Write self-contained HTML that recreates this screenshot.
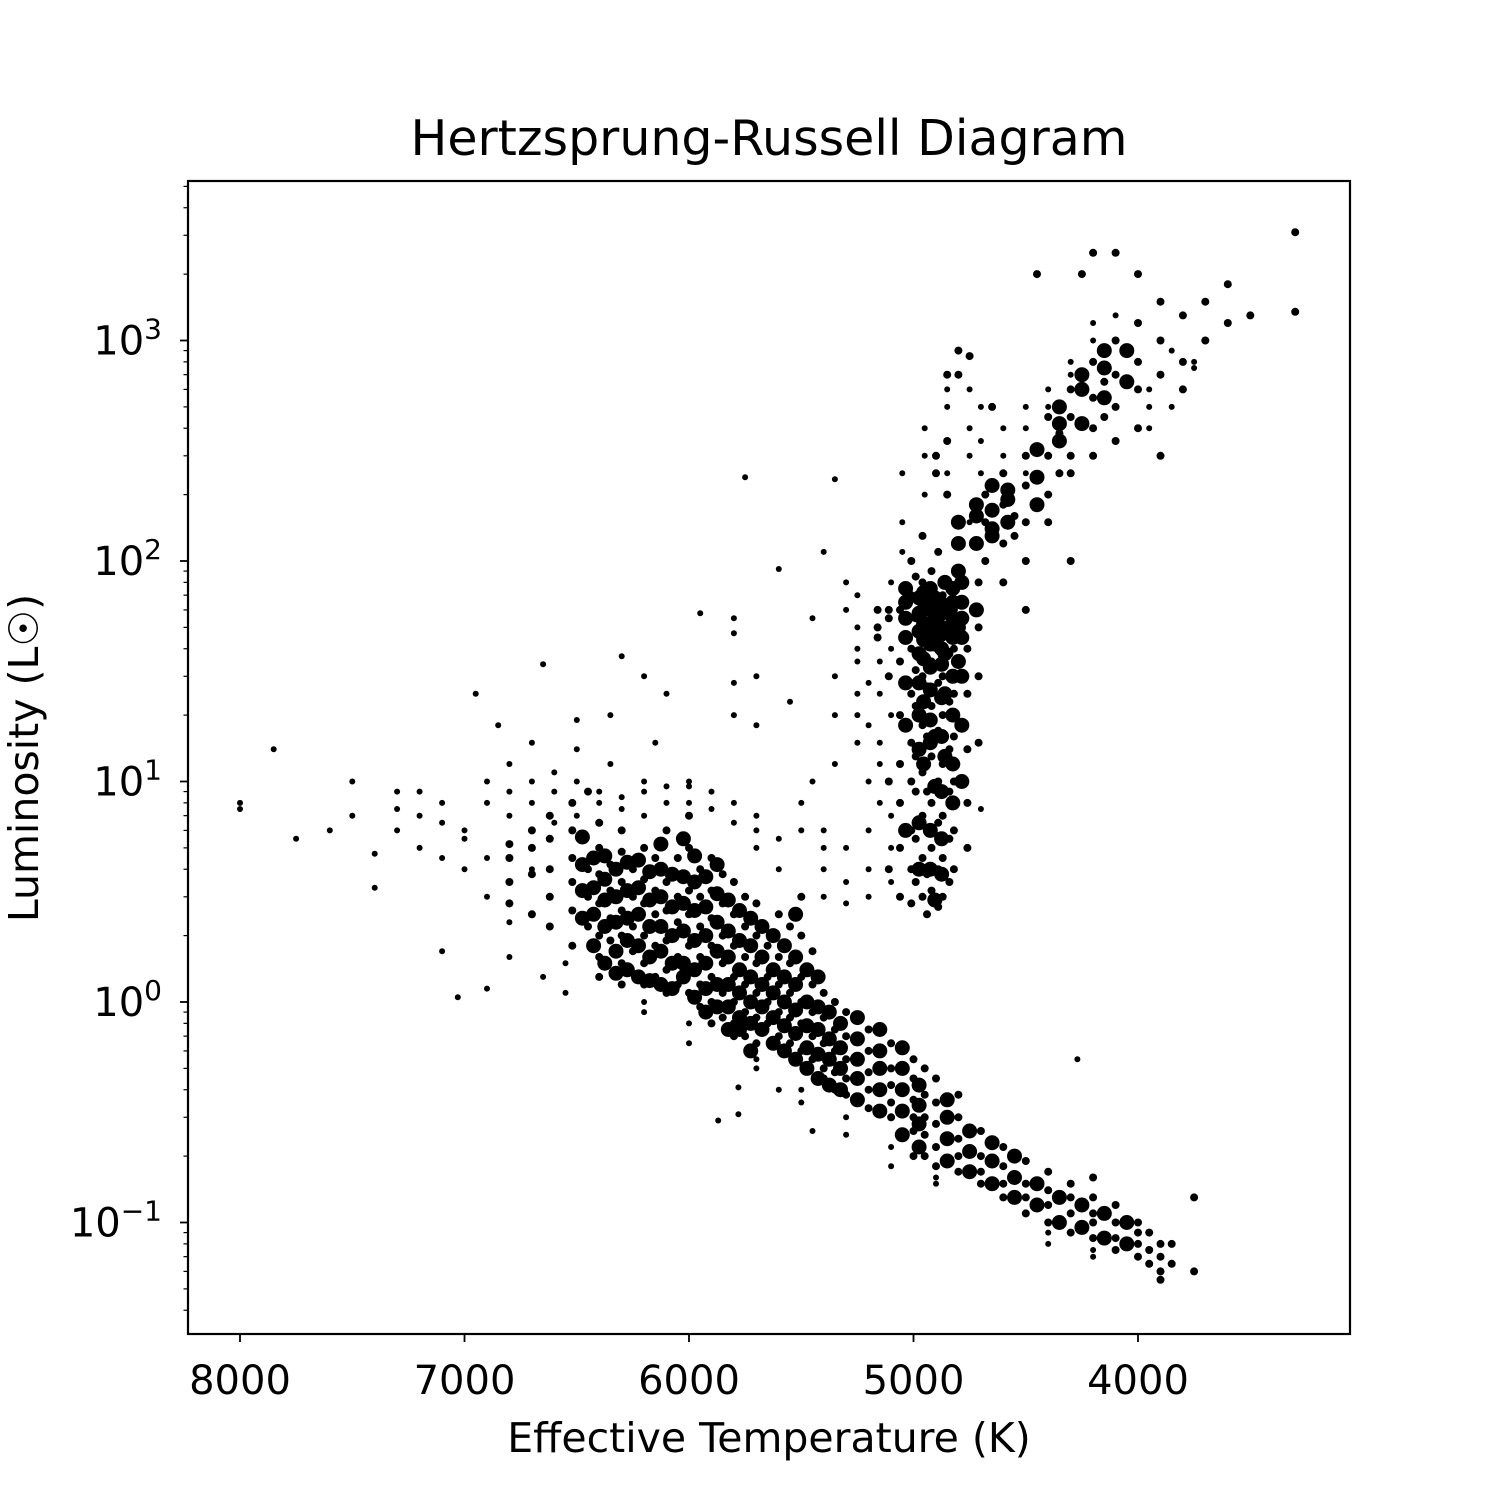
<!DOCTYPE html>
<html><head><meta charset="utf-8"><style>
html,body{margin:0;padding:0;background:#fff}
svg text{font-family:"DejaVu Sans","Liberation Sans",sans-serif;fill:#000}
</style></head><body>
<svg id="chart" width="1500" height="1500" viewBox="0 0 1500 1500" xmlns="http://www.w3.org/2000/svg">
<rect width="1500" height="1500" fill="#fff"/>
<text x="769" y="155" font-size="49" text-anchor="middle">Hertzsprung-Russell Diagram</text>
<text x="769" y="1452" font-size="41" text-anchor="middle">Effective Temperature (K)</text>
<text transform="translate(38,758) rotate(-90)" font-size="41" text-anchor="middle">Luminosity (L☉)</text>
<g id="axes"></g>
<g id="points"></g>
<rect x="188" y="181" width="1162" height="1153" fill="none" stroke="#000" stroke-width="2.2"/>
</svg>
<script>
const xTicks = [8000, 7000, 6000, 5000, 4000];
const yTickExps = [-1, 0, 1, 2, 3];
const mainSeq = [
[6800,[4.5,3.5,5.2,2.8]],[6700,[3.8,5,2.5,6]],[6620,[4,3,2.2,5.5,7]],[6520,[3.5,2.6,4.5,1.8,6,8]],
[6450,[3,2.2,4,9]],[6400,[3.8,2.8,2,1.6,5,6.5,1.3]],[6350,[3.2,2.4,4.2,1.9]],[6300,[3.5,2.6,2,1.5,4.8,1.2,6]],
[6250,[3,2.2,4,1.7]],[6200,[2.8,2,1.5,3.6,1.2,5]],[6150,[2.5,1.8,3.2,1.3,4.5]],[6100,[2.6,1.9,1.4,3.5,1.1,6]],
[6050,[2.3,1.6,3,1.2,4.5]],[6000,[2.5,1.8,1.4,3.2,1.1,5,7]],[5950,[2.2,1.6,1.2,3,4,0.95]],
[5900,[2.4,1.8,1.3,3.2,1,4.5,0.8]],[5850,[2,1.5,1.1,2.8,3.8,0.85]],[5800,[1.8,1.3,1,2.5,3.5,0.8,0.7]],
[5750,[1.6,1.2,0.9,2.2,3,0.7]],[5700,[1.5,1.1,0.85,2,2.8,0.65]],[5650,[1.3,1,0.8,1.8]],
[5600,[1.2,0.9,0.7,1.6,2.5]],[5550,[1.1,0.85,0.65,1.5,2.2]],[5500,[1,0.8,0.6,1.3,2,3]],
[5450,[0.9,0.7,0.55,1.2,1.7]],[5400,[0.85,0.65,0.5,1.1,0.45]],[5350,[0.75,0.6,0.48,1,0.4]],
[5300,[0.7,0.55,0.45,0.9,0.38]],[5200,[0.6,0.48,0.4,0.75,0.33]],[5100,[0.5,0.42,0.35,0.65,0.3]],
[5000,[0.45,0.36,0.3,0.55,0.26,0.2]],[4950,[0.38,0.3,0.25,0.5,0.2]],[4900,[0.35,0.28,0.22,0.45,0.18]],
[4800,[0.3,0.24,0.2,0.38,0.17]],[4700,[0.26,0.2,0.17,0.15]],[4600,[0.22,0.18,0.15,0.13]],
[4500,[0.19,0.15,0.13,0.11]],[4400,[0.17,0.14,0.12,0.1]],[4300,[0.15,0.13,0.11,0.09]],
[4200,[0.13,0.11,0.1,0.085,0.16]],[4100,[0.12,0.1,0.085,0.075]],[4000,[0.1,0.09,0.08,0.07]],
[3950,[0.09,0.075,0.065]],[3900,[0.08,0.07,0.06,0.055]],[3850,[0.08,0.065]],[3750,[0.13,0.06]]
];
const denseCores = [
[6475,[2.4,3.2,4.2,5.6]],[6425,[2.5,3.3,4.5,1.8]],[6375,[2.2,2.9,3.6,4.6,1.5]],[6325,[2.3,3,4,1.7,1.35]],
[6275,[1.9,2.4,3.2,4.3,1.4]],[6225,[1.8,2.5,3.3,4.4,1.3]],[6175,[1.6,2.2,2.9,3.9,1.25]],
[6125,[1.7,2.2,3,4,1.2,5.2]],[6075,[1.5,2,2.7,3.8,1.15]],[6025,[1.5,2.1,2.8,3.7,1.3,5.5]],
[5975,[1.4,1.9,2.6,3.5,1.05,4.6]],[5925,[1.15,1.5,2,2.7,3.7,0.9]],[5875,[1.2,1.7,2.3,3.1,0.95,4.2]],
[5825,[0.95,1.2,1.6,2.1,2.9,0.75]],[5775,[0.85,1.1,1.4,1.9,2.6,0.75]],[5725,[0.8,1,1.3,1.8,2.4,0.6]],
[5675,[0.75,0.95,1.2,1.6,2.2]],[5625,[0.65,0.85,1.1,1.4,2]],[5575,[0.6,0.78,1,1.3,1.8]],
[5525,[0.55,0.72,0.92,1.2,1.6,2.5]],[5475,[0.5,0.62,0.78,1,1.4]],[5425,[0.45,0.58,0.75,0.95,1.3]],
[5375,[0.42,0.55,0.68,0.9]],[5325,[0.4,0.5,0.62,0.8]],[5250,[0.36,0.45,0.55,0.68,0.85]],
[5150,[0.32,0.4,0.5,0.6,0.75]],[5050,[0.25,0.32,0.4,0.5,0.62]],[4975,[0.22,0.28,0.34,0.42]],
[4850,[0.19,0.24,0.3,0.36]],[4750,[0.17,0.21,0.26]],[4650,[0.15,0.19,0.23]],[4550,[0.13,0.16,0.2]],
[4450,[0.12,0.15]],[4350,[0.1,0.13]],[4250,[0.095,0.12]],[4150,[0.085,0.11]],[4050,[0.08,0.1]],
[4975,[14,20,28,38,48,58,68,4,6.5]],[4925,[15,19,26,33,42,50,62,75,4,6]],[4875,[16,24,34,40,50,58,64,3.8,5.5,9]],
[4825,[20,30,45,55,65,75,8,12]],[4785,[30,45,55,65,80,18,10]],[5035,[45,55,65,75,18,28,6]],
[4905,[42,48,56,68,9.5,16,2.9]],[4955,[36,44,52,60,72,23,12]],[4860,[38,48,60,80,13,25]],
[4800,[35,50,90,120,150]],[4720,[120,160,180,60]],[4650,[140,170,220,130]],[4580,[150,190,210]],
[4450,[180,240,320]],[4350,[350,420,500]],[4250,[420,600,700]],[4150,[550,750,900]],[4050,[650,900]]
];
const halo = [
[6900,[8,10,4.5,3]],[6800,[7,9,12]],[6700,[8,10,4]],[6600,[9,11,6.5]],[6500,[10,7]],[6400,[9,8]],
[6300,[8.5,7.5]],[6200,[7,9,10]],[6100,[8,9.5]],[6000,[8,9.5,10]],[5900,[7.5,9]],[5800,[6.5,8]],
[5700,[5,6,7]],[5600,[4,5.5]],[5350,[20,30,12]],[5250,[50,35,70]],[5200,[18,28,10]],[5150,[15,25,35]],
[5100,[20,40,80]],[5050,[150,250,110]],[4950,[200,300,400]],[4850,[500,600,250]],[4750,[300,400,600,150]],
[4700,[250,350,500]],[4600,[300,400]],[4500,[400,500,250]],[4400,[600,500]],[4300,[800,700]],
[4200,[1000,1200]],[4100,[1300]],[3950,[400,500,600]],[3850,[900,500]],[3750,[750,800]],
[6350,[12,20]],[6500,[19,14]],[6150,[15]],[5700,[18,30]],[5800,[28,20]],
[6200,[0.9,1]],[6000,[0.8,0.65]],[5700,[0.55,0.5]],[5500,[0.35,0.4]],[5300,[0.3,0.25]],
[5100,[0.22,0.18]],[4900,[0.16,0.15]],[4400,[0.08,0.09]],[4200,[0.075,0.07]]
];
const sparse = [
[7000,[6,4,5.5]],[7100,[6.5,4.5,8,1.7]],[7200,[7,5,9]],[7300,[6,7.5,9]],[7500,[7,10]],[7600,[6]],
[7750,[5.5]],[7850,[14]],[8000,[8,7.5]],[7400,[4.7,3.3]],[7030,[1.05]],[6900,[1.15]],[6950,[25]],
[6850,[18]],[6700,[15]],[6650,[34]],[6300,[37]],[6200,[30]],[6100,[25]],[5950,[58]],[5800,[55,47]],
[5750,[240]],[5550,[23]],[5600,[92]],[6800,[1.6,2.3]],[6650,[1.3]],[6550,[1.1,1.5]],
[5870,[0.29]],[5780,[0.41,0.31]],[5600,[0.4]],[5450,[0.26]],[4270,[0.55]],[4700,[7.5]]
];
const bridge = [
[5400,[3,4,5,6]],[5300,[3.5,5,2.8]],[5200,[4,6,3]],[5100,[5,3.5,7]],[5150,[8,12]],[5450,[10,55]],
[5300,[60,80]],[5250,[25,40]],[5400,[110]],[5350,[235]],[5500,[8,6]],[5250,[15,20]]
];
const giants = [
[5060,[3,5,8,12,20,35,60]],[5010,[2.8,4,6,10,15,25,40,70,100]],[4960,[3,4.5,7,11,18,30,50,80,130]],
[4920,[3.2,5,8,13,22,35,55,90]],[4870,[3,4.5,7,12,20,30,45,70]],[4820,[4,6,10,16,25,40,60]],
[4760,[5,8,14,25,40]],[4710,[15,30,50,80]],[5110,[4,10,30,60,55]],[5160,[50,45,60]],
[4940,[2.5,3.8,6,9,16,27,45,65]],[4890,[2.7,4,6.5,10,17,28,42,60,110]],[4840,[3.5,5.5,9,14,23,38,52]],
[4990,[3.5,5.5,9,13,22,32,55,85]],[4680,[100,150,200]],[4600,[120,180,250,80]],[4500,[150,220,300,100,60]],
[4400,[200,300,450,150]],[4300,[300,450,600,250,100]],[4200,[400,550,800,300,2500]],
[4100,[500,700,1000,350,2500]],[4000,[600,800,1200,400,2000]],[3900,[700,1000,1500,300]],
[3800,[800,1300,600]],[3700,[1000,1500]],[3600,[1200,1800]],[3500,[1300]],[3300,[1350,3100]],
[4850,[200,350,700]],[4800,[700,900]],[4900,[300,250]],[4450,[2000]],[4750,[850]],[4650,[500]],[4250,[2000]],
[4550,[160,130]],[4350,[250,380]],[4150,[450,650]]
];
const NS = "http://www.w3.org/2000/svg";
const plotLeft=188, plotTop=181, plotBottom=1334;
function xScale(t){return 240+(8000-t)*0.2245;}
function yScale(l){return 1002-Math.log10(l)*220.5;}
const axes=document.getElementById('axes');
function line(x1,y1,x2,y2,w){const l=document.createElementNS(NS,'line');l.setAttribute('x1',x1);l.setAttribute('y1',y1);l.setAttribute('x2',x2);l.setAttribute('y2',y2);l.setAttribute('stroke','#000');l.setAttribute('stroke-width',w);axes.appendChild(l);return l;}
xTicks.forEach(t=>{const x=xScale(t);
const tk=line(x,plotBottom,x,plotBottom+8,1.8);


const tx=document.createElementNS(NS,'text');tx.setAttribute('x',x);tx.setAttribute('y',plotBottom+60);tx.setAttribute('font-size','40');tx.setAttribute('text-anchor','middle');tx.textContent=t;


axes.appendChild(tx);});
for(let e=-2;e<=3;e++){for(let m=1;m<10;m++){const v=m*Math.pow(10,e);const y=yScale(v);if(y<plotTop||y>plotBottom)continue;
const tk=line(plotLeft-(m===1?8:4.5),y,plotLeft,y,m===1?1.8:1.2);

}}
yTickExps.forEach(e=>{const y=yScale(Math.pow(10,e));
const tx=document.createElementNS(NS,'text');tx.setAttribute('x',plotLeft-26);tx.setAttribute('y',y+14);tx.setAttribute('font-size','40');tx.setAttribute('text-anchor','end');


const b=document.createElementNS(NS,'tspan');b.textContent='10';tx.appendChild(b);
const s=document.createElementNS(NS,'tspan');s.setAttribute('dy','-16');s.setAttribute('font-size','28');s.textContent=e<0?'−'+(-e):String(e);tx.appendChild(s);
axes.appendChild(tx);});
const pg=document.getElementById('points');
function drawGroup(group, r){group.forEach(([t,ls])=>ls.forEach(l=>{
const c=document.createElementNS(NS,'circle');c.setAttribute('cx',xScale(t).toFixed(1));c.setAttribute('cy',yScale(l).toFixed(1));c.setAttribute('r',r);c.setAttribute('fill','#000');


pg.appendChild(c);}));}
drawGroup(denseCores,'7.5');
drawGroup(mainSeq,'4');
drawGroup(halo,'3');
drawGroup(sparse,'3');
drawGroup(bridge,'3');
drawGroup(giants,'4');
</script>
</body></html>
